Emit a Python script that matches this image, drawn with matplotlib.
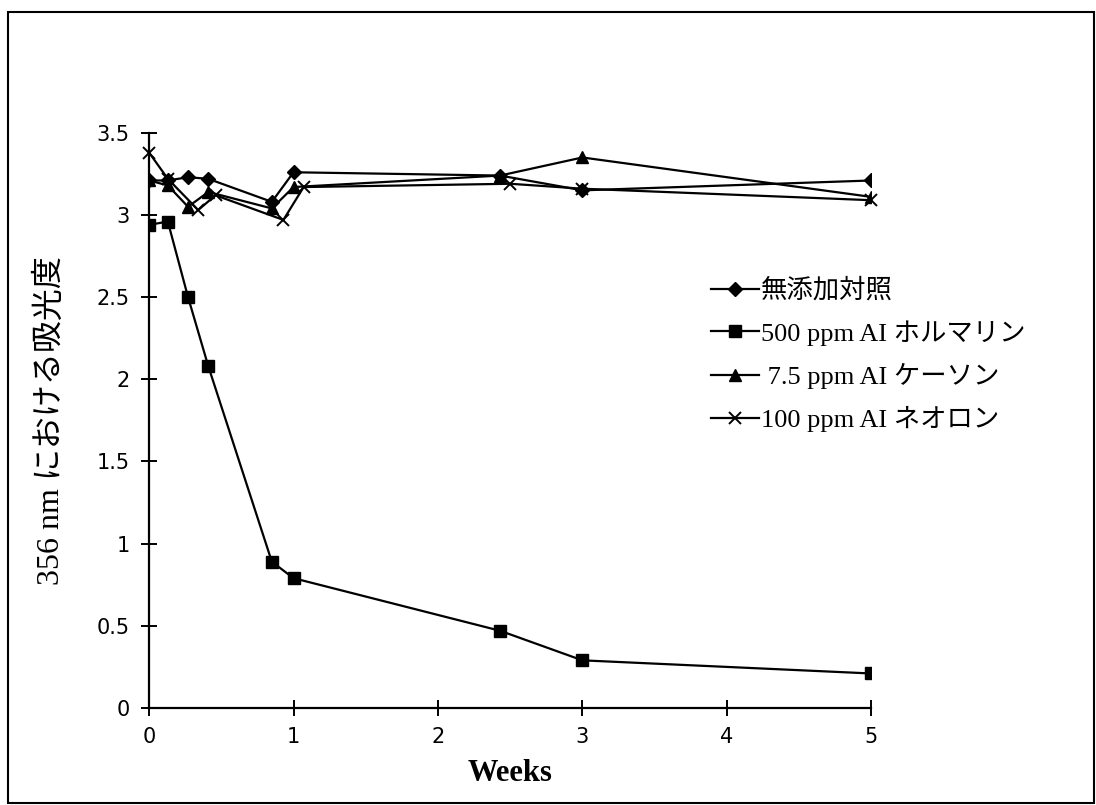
import matplotlib
matplotlib.use("Agg")
import matplotlib.pyplot as plt
from matplotlib.patches import Rectangle

# sampling times (weeks)
weeks = [0, 0.13, 0.27, 0.41, 0.85, 1.0, 2.43, 3.0, 5.0]
# the neonol trace is printed slightly offset in the original
weeks_neo = [0, 0.13, 0.34, 0.46, 0.93, 1.07, 2.5, 3.0, 5.0]

control = [3.21, 3.21, 3.23, 3.22, 3.08, 3.26, 3.24, 3.15, 3.21]
formalin = [2.94, 2.96, 2.50, 2.08, 0.89, 0.79, 0.47, 0.29, 0.21]
kathon = [3.21, 3.18, 3.05, 3.14, 3.04, 3.17, 3.24, 3.35, 3.11]
neolon = [3.38, 3.22, 3.03, 3.12, 2.97, 3.17, 3.19, 3.16, 3.09]

labels = ["無添加対照", "500 ppm AI ホルマリン", " 7.5 ppm AI ケーソン", "100 ppm AI ネオロン"]

serif = ["Liberation Serif", "Noto Sans CJK JP", "DejaVu Sans"]

fig = plt.figure(figsize=(10.96, 8.05), dpi=100)
ax = fig.add_axes([0.136, 0.1205, 0.659, 0.7145])

lw = 1.6
ax.plot(weeks, control, color="black", lw=lw, marker="D", ms=7, label=labels[0])
ax.plot(weeks, formalin, color="black", lw=lw, marker="s", ms=9, label=labels[1])
ax.plot(weeks, kathon, color="black", lw=lw, marker="^", ms=8, label=labels[2])
ax.plot(weeks_neo, neolon, color="black", lw=lw, marker="x", ms=9, mew=1.4,
        label=labels[3], clip_on=False)

ax.set_xlim(0, 5)
ax.set_ylim(0, 3.5)
ax.set_xticks([0, 1, 2, 3, 4, 5])
ax.set_yticks([0, 0.5, 1, 1.5, 2, 2.5, 3, 3.5])
ax.set_yticklabels(["0", "0.5", "1", "1.5", "2", "2.5", "3", "3.5"])
ax.spines["top"].set_visible(False)
ax.spines["right"].set_visible(False)
ax.spines["left"].set_linewidth(1.6)
ax.spines["bottom"].set_linewidth(1.6)
ax.tick_params(direction="inout", length=12, width=1.4, labelsize=15, pad=8)

ax.set_xlabel("Weeks", family=serif, fontweight="bold", fontsize=22, labelpad=8)
ax.set_ylabel("356 nm における吸光度", family=serif, fontsize=23, labelpad=22)

leg = ax.legend(loc="upper left", bbox_to_anchor=(0.76, 0.77), frameon=False,
                prop={"family": serif, "size": 19}, handlelength=1.8,
                handletextpad=0.1, labelspacing=0.65, borderpad=0)

# outer frame of the scanned page
fig.patches.append(Rectangle((0.007, 0.003), 0.991, 0.982, transform=fig.transFigure,
                             fill=False, edgecolor="black", lw=1.5))

fig.savefig("out.png", dpi=100)
